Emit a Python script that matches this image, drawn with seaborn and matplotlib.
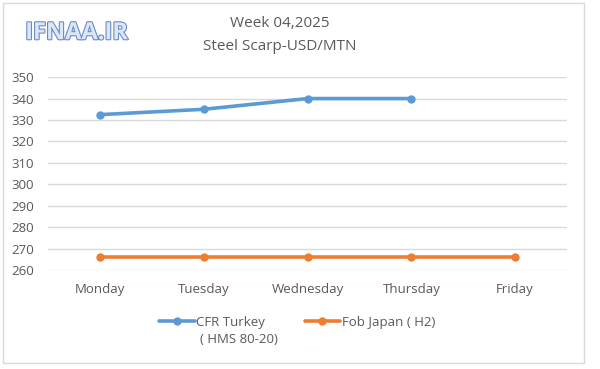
import pandas as pd
import matplotlib.pyplot as plt
import matplotlib.patheffects as pe
from matplotlib.patches import Rectangle
import seaborn as sns

days = ["Monday", "Tuesday", "Wednesday", "Thursday", "Friday"]
turkey = [332.5, 335, 340, 340, None]
japan = [266, 266, 266, 266, 266]
series_names = ["CFR Turkey", "Fob Japan ( H2)"]
turkey_note = "( HMS 80-20)"
yticks = list(range(260, 351, 10))

df = pd.DataFrame({
    "day": days * 2,
    "price": turkey + japan,
    "series": [series_names[0]] * 5 + [series_names[1]] * 5,
}).dropna()

sns.set_style("white")
plt.rcParams['font.family'] = ['Open Sans', 'DejaVu Sans']

fig = plt.figure(figsize=(6, 3.69), dpi=100)
ax = fig.add_axes([0.08, 0.268, 0.865, 0.523])

palette = {series_names[0]: "#5B9BD5", series_names[1]: "#ED7D31"}
sns.lineplot(data=df, x="day", y="price", hue="series", palette=palette,
             marker="o", markersize=6, markeredgewidth=0, linewidth=2.6,
             sort=False, ax=ax)

ax.set_xlim(-0.5, 4.5)
ax.set_ylim(260, 350)
ax.set_yticks(yticks)
ax.grid(axis="y", color="#D9D9D9", linewidth=1)
ax.set_axisbelow(True)
for s in ax.spines.values():
    s.set_visible(False)
ax.set_xlabel("")
ax.set_ylabel("")
ax.tick_params(axis="both", length=0, labelsize=9.5, colors="#595959")
ax.tick_params(axis="x", pad=9)
ax.tick_params(axis="y", pad=10)

leg = ax.legend(loc="upper center", bbox_to_anchor=(0.48, -0.175), ncol=2,
                frameon=False, fontsize=9.5, handlelength=2.7,
                columnspacing=3.0, handletextpad=0.1)
for t in leg.get_texts():
    t.set_color("#595959")

# second line of the Turkey label, under the first
ax.annotate(turkey_note, xy=(0, 0), xycoords=leg.get_texts()[0],
            xytext=(3, -3), textcoords="offset points", ha="left", va="top",
            fontsize=9.5, color="#595959", zorder=10, annotation_clip=False)

fig.text(0.467, 0.935, "Week 04,2025", ha="center", va="center",
         fontsize=11, color="#595959")
fig.text(0.467, 0.873, "Steel Scarp-USD/MTN", ha="center", va="center",
         fontsize=11, color="#595959")
fig.text(0.042, 0.91, "IFNAA.IR", ha="left", va="center", fontsize=17,
         fontweight="bold", color="#DCE6F5",
         path_effects=[pe.withStroke(linewidth=1.6, foreground="#6A8CC8")])

fig.patches.append(Rectangle((0.005, 0.016), 0.969, 0.976,
                             transform=fig.transFigure, fill=False,
                             edgecolor="#D9D9D9", linewidth=1))

fig.savefig("out.png", dpi=100)
